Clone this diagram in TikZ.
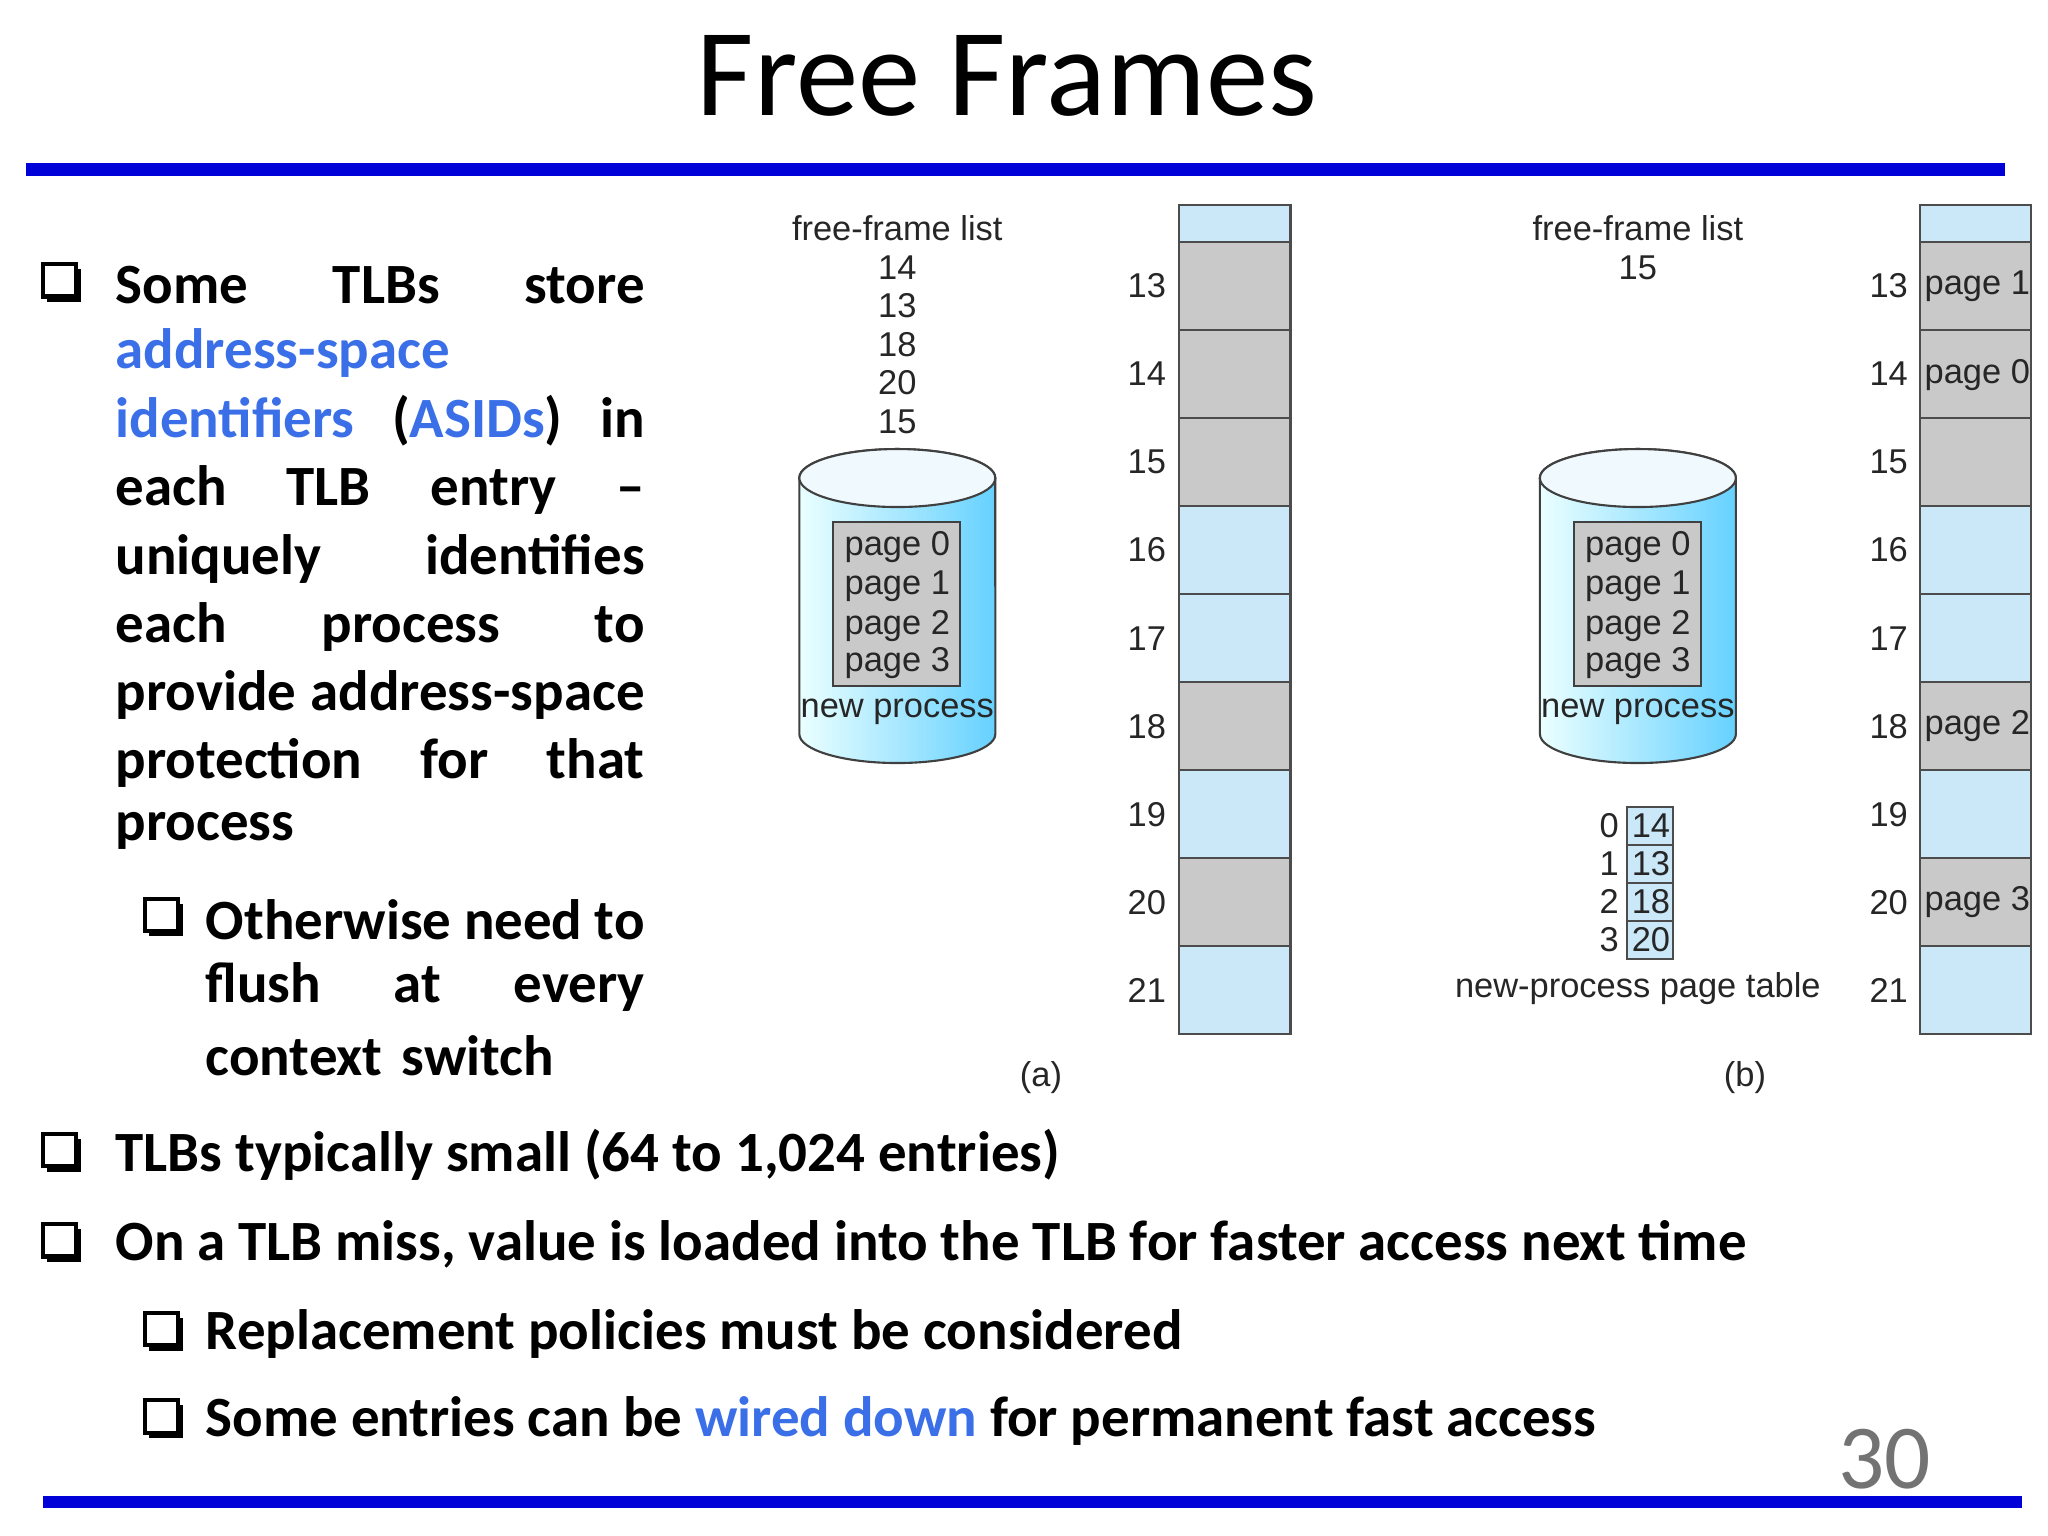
\documentclass[tikz,border=0pt]{standalone}
\usepackage{fontspec}
\setmainfont{Carlito}
\newfontfamily\dsans{Liberation Sans}
\begin{document}
\begin{tikzpicture}[x=0.013061cm,y=-0.013061cm,
  body/.style={font=\fontsize{16.2}{19}\selectfont\bfseries, anchor=west, inner sep=0pt},
  dtxt/.style={font=\dsans\fontsize{9.8}{11}\selectfont, inner sep=0pt, text=black!85},
  blueline/.style={draw=blue!85!black, line width=3.6pt}]
\definecolor{lk}{HTML}{3A6FE8}
\definecolor{lb}{HTML}{CBE8F8}
\definecolor{gr}{HTML}{C9C9C9}
\tikzset{bcell/.style={fill=lb, draw=black!70, line width=0.6pt}}
\useasboundingbox (0,0) rectangle (1568,1176);
\fill[white] (0,0) rectangle (1568,1176);
% title and rules
\node[font=\fontsize{35.5}{38}\selectfont] (title) at (771,58) {Free Frames};
\coordinate (t1) at (20,130); \coordinate (t2) at (1535,130);
\draw[blueline] (t1) -- (t2);
\coordinate (b1) at (33,1150); \coordinate (b2) at (1548,1150);
\draw[blueline] (b1) -- (b2);
\node[font=\fontsize{26}{28}\selectfont, text=black!55] (num) at (1443,1117) {30};
% bullets
\foreach \x/\y in {48/216,48/882,48/951,126/702,126/1019,126/1086}{
  \draw[line width=1.2pt] (\x-15,\y-14) rectangle (\x+10,\y+11);
  \fill (\x-12,\y+11) rectangle (\x+14,\y+15);
  \fill (\x+10,\y-10) rectangle (\x+14,\y+15);
}
% left column text
\tikzset{jl/.style={body, text width=5.29cm}, js/.style={body, text width=4.39cm}}
\node[jl] (l1) at (88,218) {Some\hfill TLBs\hfill store};
\node[jl] (l2) at (88,270) {\textcolor{lk}{address-space}};
\node[jl] (l3) at (88,322) {\textcolor{lk}{identifiers}\hfill (\textcolor{lk}{ASIDs})\hfill in};
\node[jl] (l4) at (88,375) {each\hfill TLB\hfill entry\hfill --};
\node[jl] (l5) at (88,428) {uniquely\hfill identifies};
\node[jl] (l6) at (88,480) {each\hfill process\hfill to};
\node[jl] (l7) at (88,532) {provide\hfill address-space};
\node[jl] (l8) at (88,584) {protection\hfill for\hfill that};
\node[jl] (l9) at (88,636) {process};
\node[js] (s1) at (157,704) {Otherwise\hfill need\hfill to};
\node[js] (s2) at (157,756) {flush\hfill at\hfill every};
\node[js] (s3) at (157,808) {context switch};
\node[body] (m1) at (88,884) {TLBs typically small (64 to 1,024 entries)};
\node[body] (m2) at (88,953) {On a TLB miss, value is loaded into the TLB for faster access next time};
\node[body] (m3) at (157,1021) {Replacement policies must be considered};
\node[body] (m4) at (157,1088) {Some entries can be \textcolor{lk}{wired down} for permanent fast access};
% memory columns
\foreach \cx in {903,1470}{
  \draw[bcell] (\cx,157) rectangle (\cx+85,185);
}
\foreach \n/\ca [count=\i from 0] in {13/gr,14/gr,15/gr,16/lb,17/lb,18/gr,19/lb,20/gr,21/lb}{
  \pgfmathsetmacro\yt{185+67.4*\i}
  \draw[fill=\ca, draw=black!70, line width=0.6pt] (903,\yt) rectangle (988,\yt+67.4);
  \draw[fill=\ca, draw=black!70, line width=0.6pt] (1470,\yt) rectangle (1555,\yt+67.4);
  \node[dtxt] (la\n) at (878,\yt+34) {\n};
  \node[dtxt] (lb\n) at (1446,\yt+34) {\n};
}
\begin{scope}
\clip (1470,150) rectangle (1556,800);
\node[dtxt, anchor=west] (p1) at (1473,219) {page 1};
\node[dtxt, anchor=west] (p0) at (1473,287) {page 0};
\node[dtxt, anchor=west] (p2) at (1473,556) {page 2};
\node[dtxt, anchor=west] (p3) at (1473,691) {page 3};
\end{scope}
% free-frame lists
\node[dtxt] (ffa) at (687,175) {free-frame list};
\foreach \v/\y in {14/205,13/234,18/264,20/293,15/323}{\node[dtxt] (fa\v) at (687,\y) {\v};}
\node[dtxt] (ffb) at (1254,175) {free-frame list};
\node[dtxt] (fb15) at (1254,205) {15};
% cylinders
\foreach \cx/\nm in {687/a,1254/b}{
  \shade[left color=cyan!8, right color=cyan!70!blue!60, draw=black!75, line width=0.6pt]
    (\cx-75,366) -- (\cx-75,562) arc[start angle=180,end angle=360,x radius=0.98cm,y radius=0.29cm]
    -- (\cx+75,366) arc[start angle=0,end angle=180,x radius=0.98cm,y radius=0.29cm] -- cycle;
  \draw[fill=cyan!6, draw=black!75, line width=0.6pt] (\cx,366) ellipse[x radius=0.98cm,y radius=0.29cm];
  \draw[fill=gr, draw=black!75, line width=0.6pt] (\cx-49,400) rectangle (\cx+48,525);
  \node[dtxt] (c\nm0) at (\cx,419) {page 0};
  \node[dtxt] (c\nm1) at (\cx,449) {page 1};
  \node[dtxt] (c\nm2) at (\cx,479) {page 2};
  \node[dtxt] (c\nm3) at (\cx,508) {page 3};
  \node[dtxt] (c\nm n) at (\cx,545) {new process};
}
% page table
\foreach \i/\v in {0/14,1/13,2/18,3/20}{
  \pgfmathsetmacro\yy{618+29*\i}
  \draw[bcell] (1246,\yy) rectangle (1281,\yy+29);
  \node[dtxt] (pv\i) at (1264,\yy+14.5) {\v};
  \node[dtxt] (pi\i) at (1232,\yy+14.5) {\i};
}
\node[dtxt] (npt) at (1254,757) {new-process page table};
\node[dtxt] (ca) at (797,825) {(a)};
\node[dtxt] (cb) at (1336,825) {(b)};
\end{tikzpicture}
\end{document}
